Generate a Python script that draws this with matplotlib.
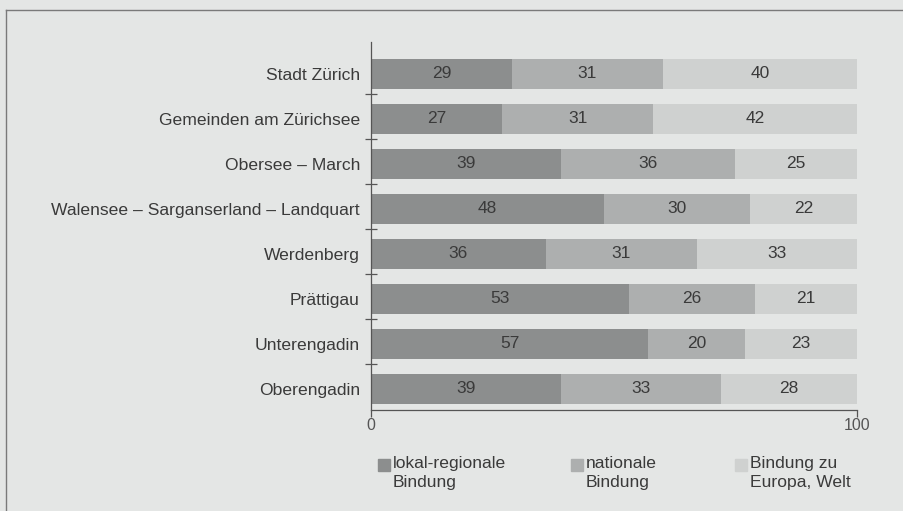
import matplotlib
matplotlib.use("Agg")
import matplotlib.pyplot as plt
from matplotlib.lines import Line2D
from matplotlib.patches import Rectangle
import numpy as np

# ─────────────────────────────────────────────
# Data (percent, each row sums to 100)
# ─────────────────────────────────────────────
regions = ["Stadt Zürich", "Gemeinden am Zürichsee", "Obersee – March",
           "Walensee – Sarganserland – Landquart", "Werdenberg", "Prättigau",
           "Unterengadin", "Oberengadin"]
lokal    = [29, 27, 39, 48, 36, 53, 57, 39]
national = [31, 31, 36, 30, 31, 26, 20, 33]
welt     = [40, 42, 25, 22, 33, 21, 23, 28]
series_labels = ["lokal-regionale\nBindung", "nationale\nBindung",
                 "Bindung zu\nEuropa, Welt"]

BG = "#e4e6e5"
COLORS = ["#8c8e8e", "#adafaf", "#cfd1d0"]
TXT = "#3a3a3a"

plt.rcParams["font.family"] = ["Liberation Sans", "DejaVu Sans"]

fig = plt.figure(figsize=(9.04, 5.11), dpi=100, facecolor=BG)
ax = fig.add_axes([371 / 904, 1 - 410 / 511, 486 / 904, 368 / 511])
ax.set_facecolor(BG)

y = np.arange(len(regions))
left = np.zeros(len(regions))
for vals, col in zip([lokal, national, welt], COLORS):
    bars = ax.barh(y, vals, left=left, height=0.66, color=col, edgecolor="none")
    for b, v in zip(bars, vals):
        ax.text(b.get_x() + b.get_width() / 2, b.get_y() + b.get_height() / 2,
                str(v), ha="center", va="center", fontsize=12.5, color=TXT)
    left += np.array(vals)

ax.set_xlim(0, 100)
ax.set_ylim(len(regions) - 1 + 0.467, -0.711)

for s in ["top", "right"]:
    ax.spines[s].set_visible(False)
for s in ["left", "bottom"]:
    ax.spines[s].set_color("#555555")
    ax.spines[s].set_linewidth(0.9)

ax.set_yticks(y)
ax.set_yticklabels(regions, fontsize=12.6, color=TXT)
ax.tick_params(axis="y", which="major", length=0, pad=8)
ax.set_yticks(y[:-1] + 0.45, minor=True)
ax.tick_params(axis="y", which="minor", direction="inout", length=9,
               width=0.9, color="#555555")

ax.set_xticks([0, 100])
ax.tick_params(axis="x", direction="out", length=5, width=0.9,
               color="#555555", labelsize=11.5, labelcolor="#555555", pad=1)

# legend drawn by hand: square + two-line label per series
leg_x = [378, 571, 735]
for x0, col, lab in zip(leg_x, COLORS, series_labels):
    fig.patches.append(Rectangle((x0 / 904, 1 - 471 / 511), 12 / 904, 12 / 511,
                                 transform=fig.transFigure, color=col))
    fig.text((x0 + 15) / 904, 1 - 456 / 511, lab, ha="left", va="top",
             fontsize=12.6, color=TXT, linespacing=1.3)

# outer frame (top and left edges)
fig.add_artist(Line2D([6 / 904, 1], [1 - 10 / 511, 1 - 10 / 511],
                      transform=fig.transFigure, color="#7a7a7a", lw=1))
fig.add_artist(Line2D([6 / 904, 6 / 904], [0, 1 - 10 / 511],
                      transform=fig.transFigure, color="#7a7a7a", lw=1))

fig.savefig("out.png", dpi=100, facecolor=BG)
